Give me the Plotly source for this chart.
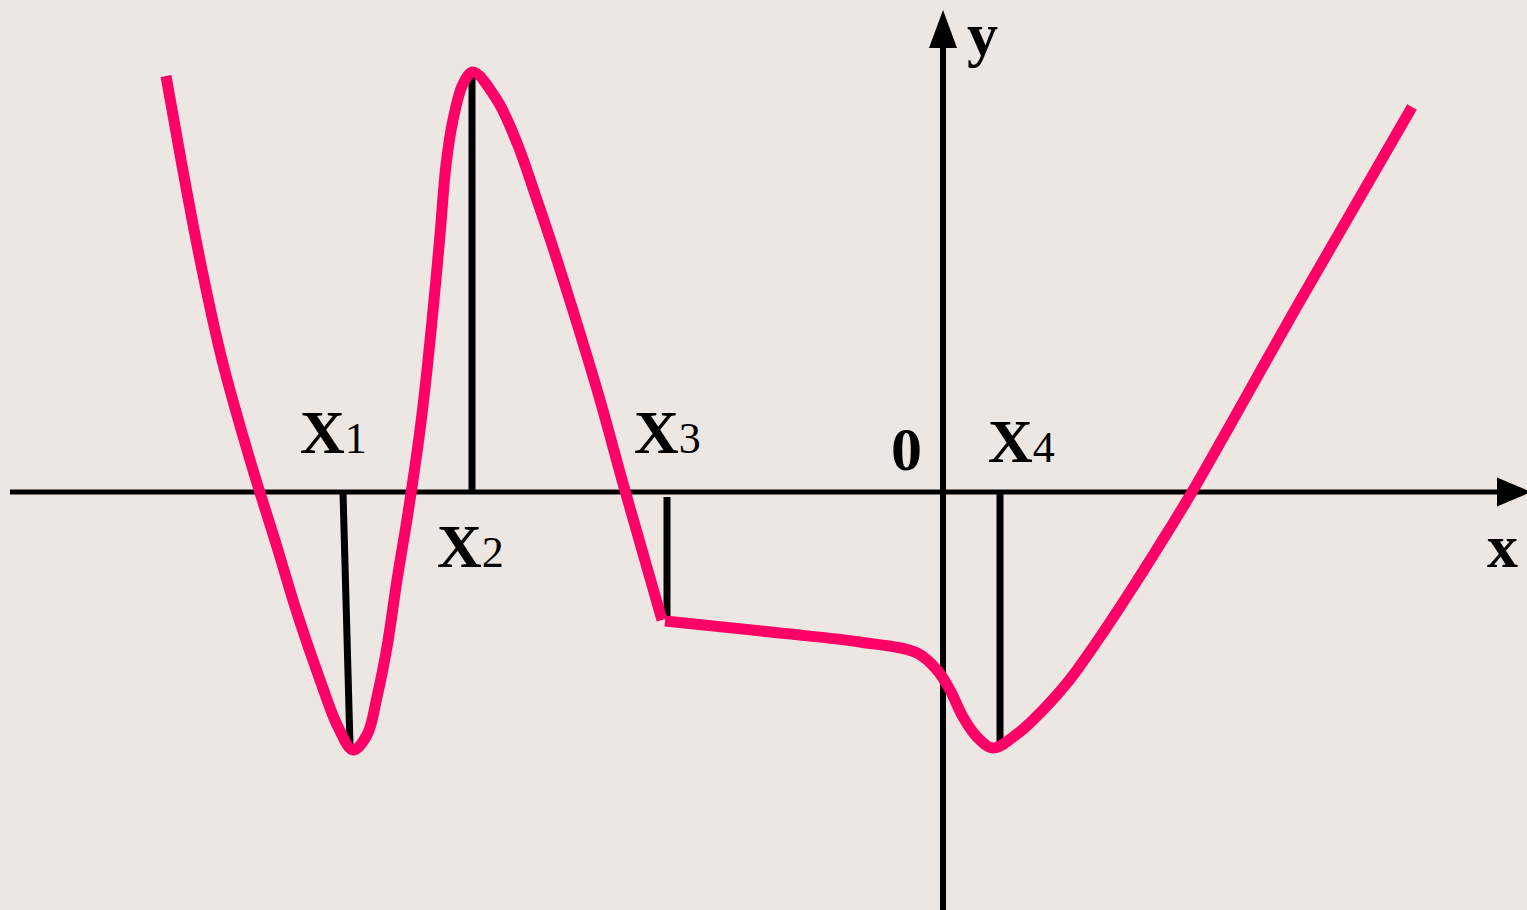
import plotly.graph_objects as go

# Units: 1 unit = 100 px, origin at the axes intersection
# Curve, part 1 (from the left end to the corner near X3)
curve1_x = [-7.77, -7.62, -7.43, -7.21, -6.93, -6.66, -6.46, -6.23, -6.05, -5.90, -5.76, -5.66,
            -5.56, -5.46, -5.35, -5.23, -5.16, -5.09, -5.03, -4.97, -4.90, -4.80, -4.70, -4.46,
            -4.26, -4.06, -3.86, -3.64, -3.43, -3.19, -2.81]
curve1_y = [4.16, 3.32, 2.32, 1.32, 0.32, -0.55, -1.21, -1.88, -2.35, -2.58, -2.43, -2.05,
            -1.55, -0.88, -0.21, 0.62, 1.22, 1.92, 2.57, 3.27, 3.72, 4.08, 4.20, 3.92,
            3.49, 2.92, 2.32, 1.62, 0.92, 0.05, -1.28]
# Curve, part 2 (from the corner to the right end)
curve2_x = [-2.78, -1.63, -0.83, -0.26, -0.06, 0.07, 0.20, 0.34, 0.50, 0.74, 0.90, 1.24,
            1.57, 1.90, 2.24, 2.49, 3.57, 4.69]
curve2_y = [-1.29, -1.41, -1.50, -1.61, -1.78, -1.98, -2.25, -2.45, -2.56, -2.42, -2.28, -1.91,
            -1.45, -0.95, -0.41, 0.00, 1.91, 3.85]

# Vertical marker segments (x0, y0, x1, y1)
markers = {
    "X1": (-6.00, 0.00, -5.93, -2.53),
    "X2": (-4.71, 0.00, -4.71, 4.17),
    "X3": (-2.76, -0.05, -2.76, -1.26),
    "X4": (0.57, 0.02, 0.57, -2.55),
}

# Labels: (text, x, y)
labels = [
    ("<b>X</b><span style='font-size:44px'>1</span>", -6.10, 0.60),
    ("<b>X</b><span style='font-size:44px'>2</span>", -4.73, -0.54),
    ("<b>X</b><span style='font-size:44px'>3</span>", -2.76, 0.60),
    ("<b>X</b><span style='font-size:44px'>4</span>", 0.78, 0.51),
    ("<b>0</b>", -0.37, 0.43),
    ("<b>y</b>", 0.39, 4.58),
    ("<b>x</b>", 5.59, -0.54),
]

# Axis extents
x_axis_span = (-9.33, 5.57)
y_axis_span = (-4.20, 4.46)
x_arrow_x = [5.54, 5.88, 5.54, 5.54]
x_arrow_y = [0.145, 0.0, -0.145, 0.145]
y_arrow_x = [-0.14, 0.0, 0.14, -0.14]
y_arrow_y = [4.44, 4.82, 4.44, 4.44]

BG = "#ECE7E2"
PINK = "#FF0066"

fig = go.Figure()

# axes
fig.add_shape(type="line", x0=x_axis_span[0], x1=x_axis_span[1], y0=0, y1=0,
              line=dict(color="black", width=5), layer="below")
fig.add_shape(type="line", x0=0, x1=0, y0=y_axis_span[0], y1=y_axis_span[1],
              line=dict(color="black", width=6), layer="below")
fig.add_trace(go.Scatter(x=x_arrow_x, y=x_arrow_y, mode="lines", fill="toself",
                         fillcolor="black", line=dict(color="black", width=0),
                         hoverinfo="skip", showlegend=False))
fig.add_trace(go.Scatter(x=y_arrow_x, y=y_arrow_y, mode="lines", fill="toself",
                         fillcolor="black", line=dict(color="black", width=0),
                         hoverinfo="skip", showlegend=False))

# marker verticals
for name, (x0, y0, x1, y1) in markers.items():
    fig.add_trace(go.Scatter(x=[x0, x1], y=[y0, y1], mode="lines",
                             line=dict(color="black", width=7),
                             hoverinfo="skip", showlegend=False))

# curve
for cx, cy in ((curve1_x, curve1_y), (curve2_x, curve2_y)):
    fig.add_trace(go.Scatter(x=cx, y=cy, mode="lines",
                             line=dict(color=PINK, width=11, shape="spline",
                                       smoothing=1.0, simplify=False),
                             hoverinfo="skip", showlegend=False))

for text, x, y in labels:
    fig.add_annotation(x=x, y=y, text=text, showarrow=False, xanchor="center",
                       yanchor="middle", borderpad=0,
                       font=dict(family="Liberation Serif", size=62, color="black"))

fig.update_layout(
    width=1527, height=910,
    margin=dict(l=0, r=0, t=0, b=0),
    paper_bgcolor=BG, plot_bgcolor=BG,
    xaxis=dict(range=[-9.43, 5.84], visible=False, fixedrange=True),
    yaxis=dict(range=[-4.18, 4.92], visible=False, fixedrange=True),
    showlegend=False,
)

fig.write_html("out.html", config={"displayModeBar": False},
               post_script="document.body.style.margin='0';document.body.style.padding='0';"
                           "document.body.style.overflow='hidden';"
                           "document.body.style.background='" + BG + "';")
